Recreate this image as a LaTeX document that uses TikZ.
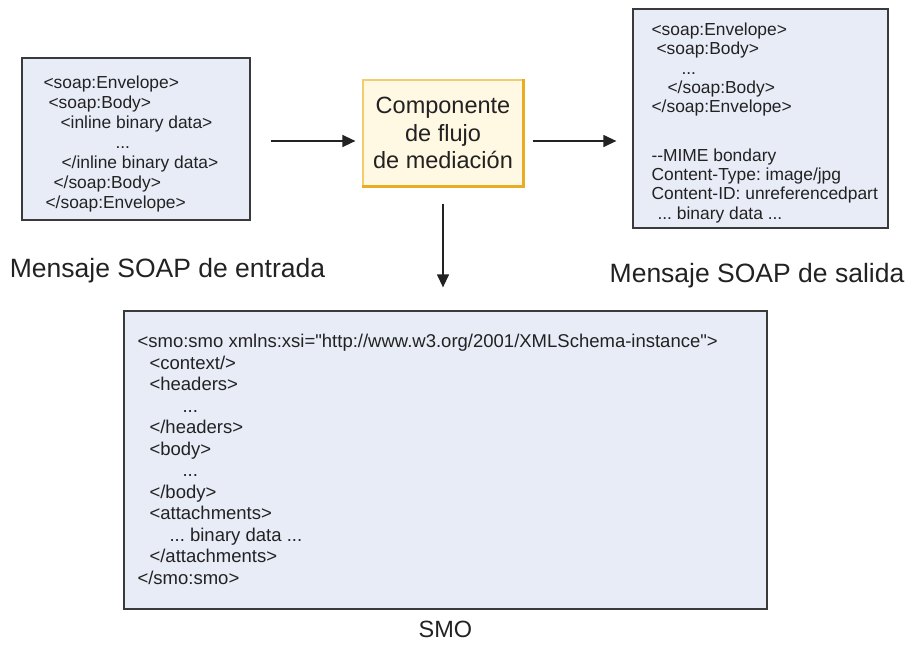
\documentclass[tikz,border=0pt]{standalone}
\usepackage{fontspec}
\setmainfont{Liberation Sans}[Ligatures=TeXOff]
\usepackage{xcolor}
\usetikzlibrary{positioning, arrows.meta}
\frenchspacing

\definecolor{boxfill}{HTML}{E8ECF7}
\definecolor{boxline}{HTML}{3A3A3A}
\definecolor{midfill}{HTML}{FFF8E2}
\definecolor{midline}{HTML}{F3CC6E}
\definecolor{midshade}{HTML}{E9AC22}
\definecolor{ink}{HTML}{222222}

\tikzset{
  msgbox/.style={draw=boxline, fill=boxfill, line width=1.3pt, inner sep=0pt},
  code/.style={font=\fontsize{17.4}{20}\selectfont, align=left, inner sep=0pt, text=ink, anchor=north west},
  flow/.style={-{Triangle[length=13pt,width=12pt]}, draw=ink, line width=1.3pt},
  caption/.style={font=\fontsize{26.5}{30}\selectfont, text=ink, inner sep=0pt}
}

\begin{document}
\begin{tikzpicture}
      [x=1pt, y=1pt, node distance=2cm, text centered]
      \useasboundingbox (0,0) rectangle (907,-651);

      %nodes
      \node[msgbox, minimum width=228pt, minimum height=162pt] (inbox) at (136,-139) {};
      \node[code] (intxt) at ([shift={(22pt,-18.5pt)}]inbox.north west)
        {<soap:Envelope>\\
         \hspace*{5pt}<soap:Body>\\
         \hspace*{17pt}<inline binary data>\\
         \hspace*{72pt}...\\
         \hspace*{18pt}</inline binary data>\\
         \hspace*{10pt}</soap:Body>\\
         \hspace*{2pt}</soap:Envelope>};

      \node[draw=midline, fill=midfill, line width=1.2pt, minimum width=160pt, minimum height=106pt,
            align=center, text=ink, font=\fontsize{23.5}{27.5}\selectfont] (mid) at (443,-133)
        {Componente\\de flujo\\de mediación};
      \draw[midshade, line width=2.4pt] (mid.north east) -- (mid.south east) -- (mid.south west);

      \node[msgbox, minimum width=255pt, minimum height=219pt] (outbox) at (760.5,-118.5) {};
      \node[code, font=\fontsize{17.4}{19.3}\selectfont] (outtxt) at ([shift={(19pt,-14.5pt)}]outbox.north west)
        {<soap:Envelope>\\
         \hspace*{5pt}<soap:Body>\\
         \hspace*{30pt}...\\
         \hspace*{16pt}</soap:Body>\\
         </soap:Envelope>\\[29pt]
         --MIME bondary\\
         Content-Type: image/jpg\\
         Content-ID: unreferencedpart\\
         \hspace*{6pt}... binary data ...};

      \node[msgbox, minimum width=643pt, minimum height=298pt] (smo) at (445.5,-460) {};
      \node[code, font=\fontsize{18.5}{21.5}\selectfont] (smotxt) at ([shift={(14pt,-24pt)}]smo.north west)
        {<smo:smo xmlns:xsi="http://www.w3.org/2001/XMLSchema-instance">\\
         \hspace*{12pt}<context/>\\
         \hspace*{12pt}<headers>\\
         \hspace*{45pt}...\\
         \hspace*{12pt}</headers>\\
         \hspace*{12pt}<body>\\
         \hspace*{45pt}...\\
         \hspace*{12pt}</body>\\
         \hspace*{12pt}<attachments>\\
         \hspace*{32pt}... binary data ...\\
         \hspace*{12pt}</attachments>\\
         </smo:smo>};

      % captions
      \node[caption, below=37pt of inbox, xshift=31.5pt] (inlbl) {Mensaje SOAP de entrada};
      \node[caption, below=34pt of outbox, xshift=-3.5pt] (outlbl) {Mensaje SOAP de salida};
      \node[caption, font=\fontsize{23.5}{28}\selectfont, below=11pt of smo] (smolbl) {SMO};

      % edges %
      \coordinate (lev) at ([yshift=-8pt]mid.center);
      \draw[flow, shorten <=20pt, shorten >=7pt] (inbox.east |- lev) -- (mid.west |- lev);
      \draw[flow, shorten <=9pt, shorten >=16pt] (mid.east |- lev) -- (outbox.west |- lev);
      \draw[flow, shorten <=17pt, shorten >=23pt] (mid.south) -- (mid.south |- smo.north);
    \end{tikzpicture}
\end{document}
